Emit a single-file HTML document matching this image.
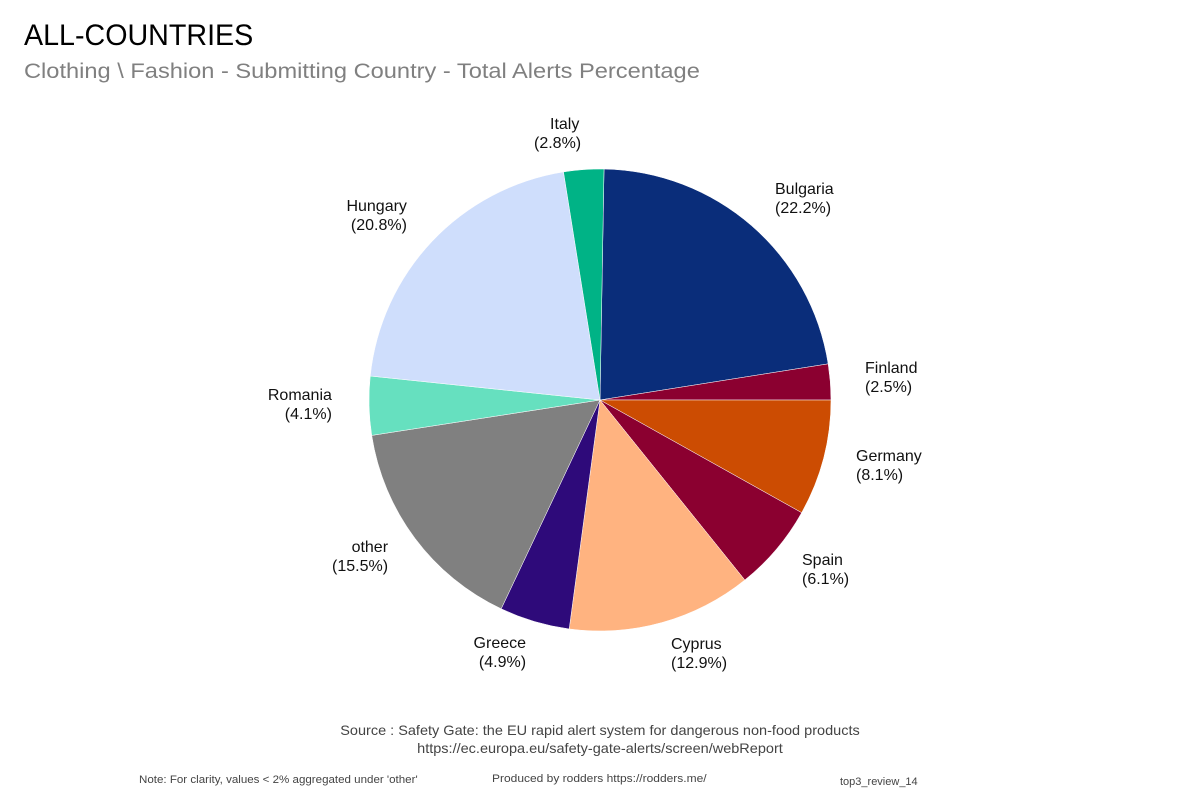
<!DOCTYPE html>
<html><head><meta charset="utf-8"><style>
body{margin:0;background:#fff;width:1200px;height:800px;overflow:hidden;font-family:"Liberation Sans","DejaVu Sans",sans-serif}
.t{position:absolute;white-space:nowrap}
.lbl{position:absolute;font-size:16px;color:#111;line-height:19px}
</style></head><body>
<div class="t" style="left:24px;top:19px;font-size:30px;color:#000;transform:scaleX(0.955);transform-origin:left">ALL-COUNTRIES</div>
<div class="t" style="left:24px;top:60px;font-size:21px;color:#808080;transform:scaleX(1.125);transform-origin:left">Clothing \ Fashion - Submitting Country - Total Alerts Percentage</div>
<svg id="pie" width="1200" height="800" style="position:absolute;left:0;top:0"></svg>
<div class="lbl" style="left:550px;top:115px;text-align:left">Italy<br><span style="margin-left:-16px">(2.8%)</span></div>
<div class="lbl" style="left:775px;top:180px">Bulgaria<br>(22.2%)</div>
<div class="lbl" style="left:342px;top:197px;text-align:right">Hungary<br>&nbsp;&nbsp;(20.8%)</div>
<div class="lbl" style="left:865px;top:359px">Finland<br>(2.5%)</div>
<div class="lbl" style="left:267px;top:386px;text-align:right">Romania<br>&nbsp;&nbsp;&nbsp;&nbsp;(4.1%)</div>
<div class="lbl" style="left:856px;top:447px">Germany<br>(8.1%)</div>
<div class="lbl" style="left:332px;top:538px;text-align:right">&nbsp;&nbsp;&nbsp;&nbsp;other<br>(15.5%)</div>
<div class="lbl" style="left:802px;top:551px">Spain<br>(6.1%)</div>
<div class="lbl" style="left:470px;top:634px;text-align:right">Greece<br>&nbsp;&nbsp;(4.9%)</div>
<div class="lbl" style="left:671px;top:635px">Cyprus<br>(12.9%)</div>
<div class="t" style="left:0;width:1200px;text-align:center;top:721px;font-size:14px;color:#444;line-height:18px"><span style="display:inline-block;transform:scaleX(1.035)">Source : Safety Gate: the EU rapid alert system for dangerous non-food products<br>https://ec.europa.eu/safety-gate-alerts/screen/webReport</span></div>
<div class="t" style="left:139px;top:774px;font-size:11px;color:#444;transform:scaleX(1.05);transform-origin:left">Note: For clarity, values &lt; 2% aggregated under 'other'</div>
<div class="t" style="left:492px;top:773px;font-size:11px;color:#444;transform:scaleX(1.09);transform-origin:left">Produced by rodders https://rodders.me/</div>
<div class="t" style="left:840px;top:776px;font-size:11px;color:#444">top3_review_14</div>
<script>
var d=[[22.2,"#0a2d7a"],[2.5,"#8b0030"],[8.1,"#cc4c02"],[6.1,"#8b0030"],[12.9,"#ffb380"],[4.9,"#2e0a7a"],[15.5,"#808080"],[4.1,"#66e0bf"],[20.8,"#cfdefc"],[2.8,"#00b386"]];
var cx=600,cy=400,r=231,a=1.0,s="";
function p(g){var t=g*Math.PI/180;return (cx+r*Math.sin(t)).toFixed(2)+","+(cy-r*Math.cos(t)).toFixed(2);}
var tot=0;d.forEach(function(x){tot+=x[0]});
d.forEach(function(x){var b=a+x[0]/tot*360;s+='<path d="M'+cx+','+cy+' L'+p(a)+' A'+r+','+r+' 0 '+((b-a)>180?1:0)+' 1 '+p(b)+' Z" fill="'+x[1]+'" stroke="#fff" stroke-width="0.5"/>';a=b;});
document.getElementById("pie").innerHTML=s;
</script>
</body></html>
